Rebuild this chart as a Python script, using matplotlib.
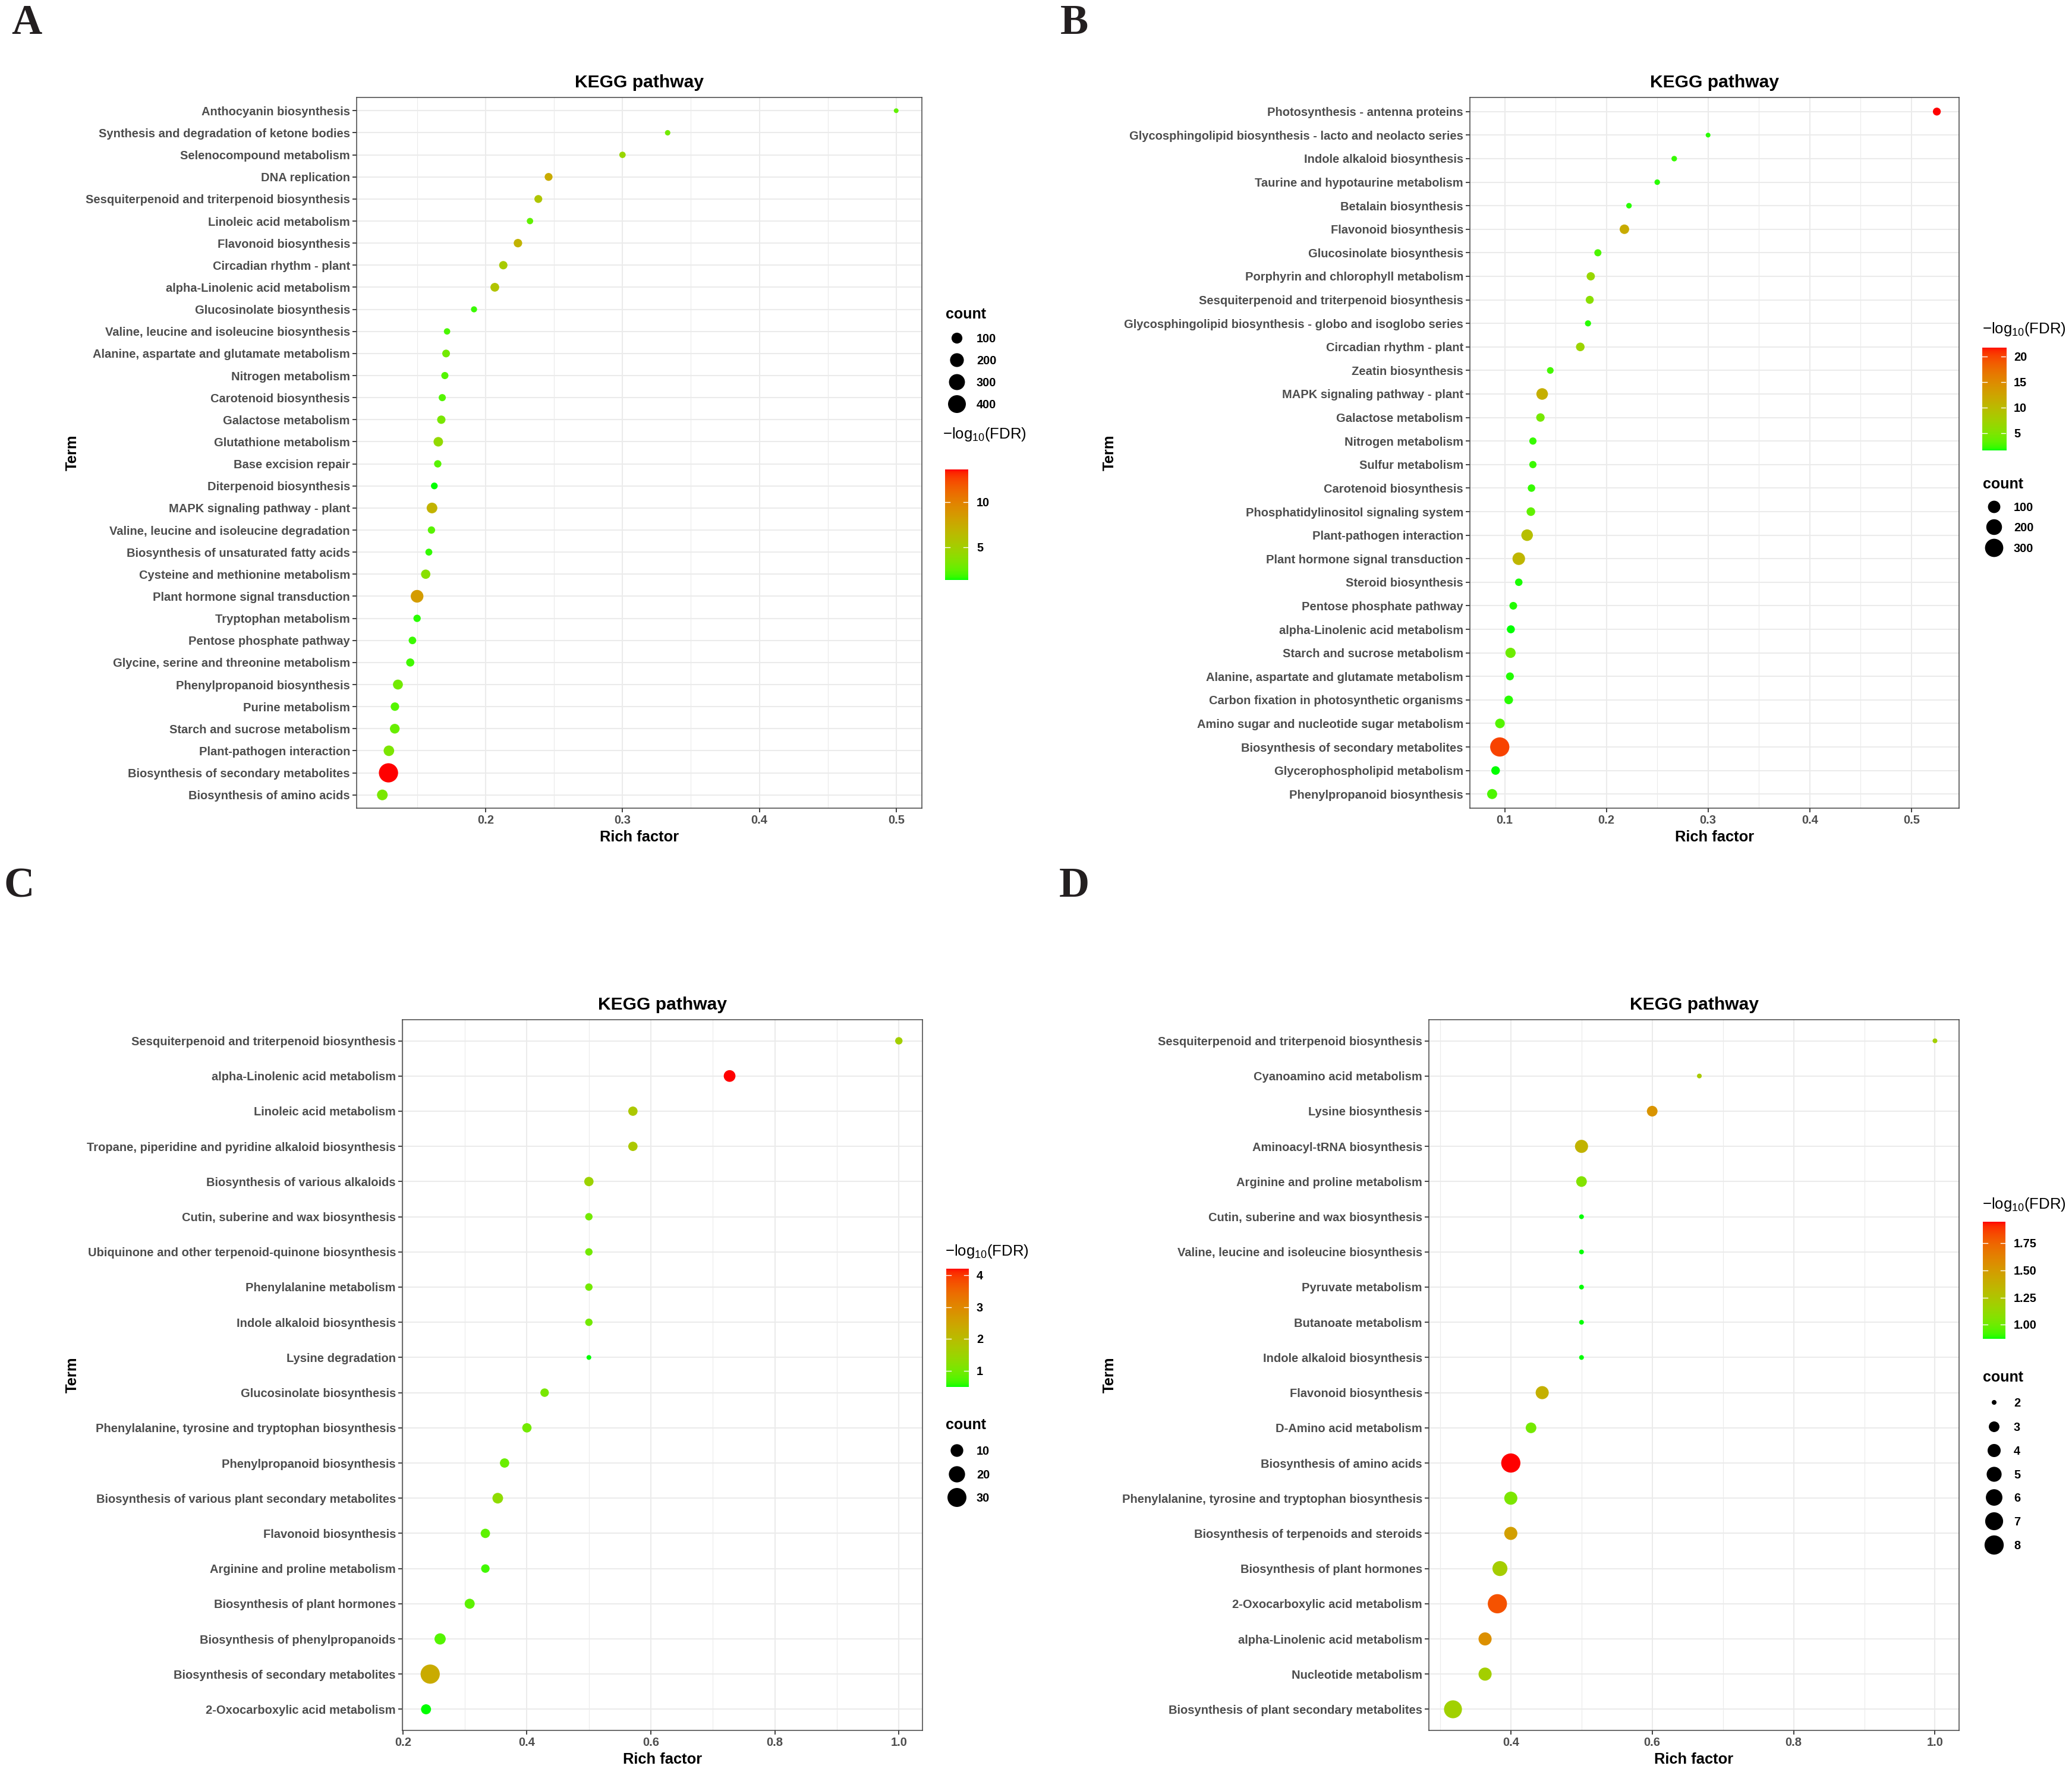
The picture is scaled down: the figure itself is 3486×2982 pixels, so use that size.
import numpy as np
import matplotlib
matplotlib.use("Agg")
import matplotlib.pyplot as plt

plt.rcParams['font.family'] = ['Liberation Sans', 'DejaVu Sans']
plt.rcParams['mathtext.default'] = 'regular'

# ---------------- DATA ----------------
terms_A = ["Anthocyanin biosynthesis", "Synthesis and degradation of ketone bodies",
           "Selenocompound metabolism", "DNA replication",
           "Sesquiterpenoid and triterpenoid biosynthesis", "Linoleic acid metabolism",
           "Flavonoid biosynthesis", "Circadian rhythm - plant", "alpha-Linolenic acid metabolism",
           "Glucosinolate biosynthesis", "Valine, leucine and isoleucine biosynthesis",
           "Alanine, aspartate and glutamate metabolism", "Nitrogen metabolism",
           "Carotenoid biosynthesis", "Galactose metabolism", "Glutathione metabolism",
           "Base excision repair", "Diterpenoid biosynthesis", "MAPK signaling pathway - plant",
           "Valine, leucine and isoleucine degradation", "Biosynthesis of unsaturated fatty acids",
           "Cysteine and methionine metabolism", "Plant hormone signal transduction",
           "Tryptophan metabolism", "Pentose phosphate pathway",
           "Glycine, serine and threonine metabolism", "Phenylpropanoid biosynthesis",
           "Purine metabolism", "Starch and sucrose metabolism", "Plant-pathogen interaction",
           "Biosynthesis of secondary metabolites", "Biosynthesis of amino acids"]
rich_A = [0.500, 0.333, 0.300, 0.246, 0.2385, 0.2324, 0.2236, 0.2129, 0.2067, 0.1915,
          0.1718, 0.1711, 0.1702, 0.1683, 0.1676, 0.1654, 0.1650, 0.1625, 0.1608, 0.1604,
          0.1585, 0.1562, 0.1499, 0.1499, 0.1465, 0.1449, 0.1359, 0.1337, 0.1336, 0.1293,
          0.1290, 0.1245]
count_A = [16, 17, 22, 38, 38, 22, 47, 45, 52, 20, 22, 36, 29, 29, 45, 67, 31, 25, 95, 31,
           27, 63, 157, 31, 34, 42, 76, 47, 71, 91, 485, 95]
fdr_A = [2.5, 3.0, 4.5, 7.5, 5.7, 2.5, 7.0, 5.3, 5.8, 1.8, 2.0, 3.0, 2.2, 2.2, 3.2, 4.2,
         2.3, 1.4, 7.0, 2.3, 1.7, 3.8, 8.5, 1.6, 1.8, 1.9, 3.0, 2.2, 2.7, 3.3, 13.6, 3.2]

terms_B = ["Photosynthesis - antenna proteins",
           "Glycosphingolipid biosynthesis - lacto and neolacto series",
           "Indole alkaloid biosynthesis", "Taurine and hypotaurine metabolism",
           "Betalain biosynthesis", "Flavonoid biosynthesis", "Glucosinolate biosynthesis",
           "Porphyrin and chlorophyll metabolism", "Sesquiterpenoid and triterpenoid biosynthesis",
           "Glycosphingolipid biosynthesis - globo and isoglobo series", "Circadian rhythm - plant",
           "Zeatin biosynthesis", "MAPK signaling pathway - plant", "Galactose metabolism",
           "Nitrogen metabolism", "Sulfur metabolism", "Carotenoid biosynthesis",
           "Phosphatidylinositol signaling system", "Plant-pathogen interaction",
           "Plant hormone signal transduction", "Steroid biosynthesis", "Pentose phosphate pathway",
           "alpha-Linolenic acid metabolism", "Starch and sucrose metabolism",
           "Alanine, aspartate and glutamate metabolism",
           "Carbon fixation in photosynthetic organisms",
           "Amino sugar and nucleotide sugar metabolism", "Biosynthesis of secondary metabolites",
           "Glycerophospholipid metabolism", "Phenylpropanoid biosynthesis"]
rich_B = [0.525, 0.300, 0.2667, 0.250, 0.2222, 0.2177, 0.1916, 0.1846, 0.1836, 0.1819,
          0.1743, 0.1448, 0.1368, 0.1351, 0.1277, 0.1277, 0.1263, 0.1257, 0.1220, 0.1138,
          0.1138, 0.1084, 0.1060, 0.1057, 0.1051, 0.1039, 0.0953, 0.0951, 0.0910, 0.0876]
count_B = [22, 6, 7, 7, 7, 42, 15, 26, 23, 9, 30, 12, 81, 28, 16, 16, 18, 30, 81, 104,
           18, 20, 23, 54, 22, 30, 44, 342, 30, 51]
fdr_B = [21.74, 2.0, 2.2, 2.0, 2.0, 11.7, 2.8, 6.7, 5.7, 2.0, 7.0, 2.5, 11.3, 4.5, 2.2,
         2.3, 2.2, 3.5, 9.5, 10.5, 1.8, 1.9, 1.7, 4.0, 1.9, 2.0, 3.0, 20.1, 1.67, 2.8]

terms_C = ["Sesquiterpenoid and triterpenoid biosynthesis", "alpha-Linolenic acid metabolism",
           "Linoleic acid metabolism", "Tropane, piperidine and pyridine alkaloid biosynthesis",
           "Biosynthesis of various alkaloids", "Cutin, suberine and wax biosynthesis",
           "Ubiquinone and other terpenoid-quinone biosynthesis", "Phenylalanine metabolism",
           "Indole alkaloid biosynthesis", "Lysine degradation", "Glucosinolate biosynthesis",
           "Phenylalanine, tyrosine and tryptophan biosynthesis", "Phenylpropanoid biosynthesis",
           "Biosynthesis of various plant secondary metabolites", "Flavonoid biosynthesis",
           "Arginine and proline metabolism", "Biosynthesis of plant hormones",
           "Biosynthesis of phenylpropanoids", "Biosynthesis of secondary metabolites",
           "2-Oxocarboxylic acid metabolism"]
rich_C = [1.0, 0.727, 0.571, 0.571, 0.5, 0.5, 0.5, 0.5, 0.5, 0.5, 0.4286, 0.4, 0.364,
          0.353, 0.333, 0.333, 0.3077, 0.2600, 0.2440, 0.2373]
count_C = [2, 8, 4, 4, 4, 2, 2, 2, 2, 1, 3, 4, 4, 6, 4, 3, 5, 7, 31, 5]
fdr_C = [1.6, 4.2, 1.75, 1.75, 1.5, 1.0, 1.0, 1.0, 1.0, 0.5, 1.05, 1.0, 0.9, 1.3, 0.8,
         0.65, 0.8, 0.75, 2.35, 0.5]

terms_D = ["Sesquiterpenoid and triterpenoid biosynthesis", "Cyanoamino acid metabolism",
           "Lysine biosynthesis", "Aminoacyl-tRNA biosynthesis", "Arginine and proline metabolism",
           "Cutin, suberine and wax biosynthesis", "Valine, leucine and isoleucine biosynthesis",
           "Pyruvate metabolism", "Butanoate metabolism", "Indole alkaloid biosynthesis",
           "Flavonoid biosynthesis", "D-Amino acid metabolism", "Biosynthesis of amino acids",
           "Phenylalanine, tyrosine and tryptophan biosynthesis",
           "Biosynthesis of terpenoids and steroids", "Biosynthesis of plant hormones",
           "2-Oxocarboxylic acid metabolism", "alpha-Linolenic acid metabolism",
           "Nucleotide metabolism", "Biosynthesis of plant secondary metabolites"]
rich_D = [1.0, 0.6667, 0.6, 0.5, 0.5, 0.5, 0.5, 0.5, 0.5, 0.5, 0.4444, 0.4286, 0.4, 0.4,
          0.4, 0.3846, 0.3810, 0.3636, 0.3636, 0.3182]
count_D = [2, 2, 3, 4, 3, 2, 2, 2, 2, 2, 4, 3, 8, 4, 4, 5, 8, 4, 4, 7]
fdr_D = [1.19, 1.22, 1.54, 1.36, 1.06, 0.87, 0.87, 0.87, 0.87, 0.87, 1.38, 1.02, 1.95,
         1.04, 1.48, 1.20, 1.82, 1.56, 1.19, 1.18]

xticks_A = [0.2, 0.3, 0.4, 0.5]
xticks_B = [0.1, 0.2, 0.3, 0.4, 0.5]
xticks_C = [0.2, 0.4, 0.6, 0.8, 1.0]
xticks_D = [0.4, 0.6, 0.8, 1.0]
cbticks_A = [5, 10]
cbticks_B = [5, 10, 15, 20]
cbticks_C = [1, 2, 3, 4]
cbticks_D = [1.00, 1.25, 1.50, 1.75]
sizebreaks_A = [100, 200, 300, 400]
sizebreaks_B = [100, 200, 300]
sizebreaks_C = [10, 20, 30]
sizebreaks_D = [2, 3, 4, 5, 6, 7, 8]

# ---------------- STYLE / LAYOUT ----------------
W, H = 3486, 2982
DPI = 100
PX2PT = 72.0 / DPI
DMIN, DMAX = 8.0, 32.3          # dot diameter range in px
GRID = '#EBEBEB'
TICKTXT = '#4D4D4D'


def lab_gradient(c1, c2, n=256):
    M = np.array([[0.4124564, 0.3575761, 0.1804375],
                  [0.2126729, 0.7151522, 0.0721750],
                  [0.0193339, 0.1191920, 0.9503041]])
    Minv = np.linalg.inv(M)
    wp = np.array([0.95047, 1.0, 1.08883])
    d = 6 / 29

    def f(t):
        return np.where(t > d ** 3, np.cbrt(t), t / (3 * d * d) + 4 / 29)

    def finv(t):
        return np.where(t > d, t ** 3, 3 * d * d * (t - 4 / 29))

    def to_lab(c):
        c = np.asarray(c, float)
        lin = np.where(c <= 0.04045, c / 12.92, ((c + 0.055) / 1.055) ** 2.4)
        xyz = M @ lin / wp
        fx, fy, fz = f(xyz)
        return np.array([116 * fy - 16, 500 * (fx - fy), 200 * (fy - fz)])

    def to_rgb(lab):
        L, a, b = lab
        fy = (L + 16) / 116
        fx = fy + a / 500
        fz = fy - b / 200
        xyz = np.array([finv(fx), finv(fy), finv(fz)]) * wp
        lin = Minv @ xyz
        lin = np.clip(lin, 0, 1)
        c = np.where(lin <= 0.0031308, 12.92 * lin, 1.055 * lin ** (1 / 2.4) - 0.055)
        return np.clip(c, 0, 1)

    l1, l2 = to_lab(c1), to_lab(c2)
    return np.array([to_rgb(l1 + (l2 - l1) * t) for t in np.linspace(0, 1, n)])


GRAD = lab_gradient((0, 1, 0), (1, 0, 0))


def colour(v, vmin, vmax):
    t = (np.asarray(v, float) - vmin) / (vmax - vmin)
    idx = np.clip(np.round(t * 255).astype(int), 0, 255)
    return GRAD[idx]


def diam(c, cmin, cmax):
    c = np.asarray(c, float)
    return DMIN + (DMAX - DMIN) * np.sqrt(np.clip((c - cmin) / (cmax - cmin), 0, 1))


def box(x0, y0, x1, y1):
    return [x0 / W, 1 - y1 / H, (x1 - x0) / W, (y1 - y0) / H]


fig = plt.figure(figsize=(W / DPI, H / DPI), dpi=DPI)
fig.patch.set_facecolor('white')
ov = fig.add_axes([0, 0, 1, 1], zorder=10)
ov.set_xlim(0, W)
ov.set_ylim(H, 0)
ov.axis('off')


def panel(letter, letter_xy, axbox, terms, rich, count, fdr, xticks, term_x,
          cb, cbticks, cbfmt, fdr_title_xy, count_title_xy, size_breaks, size_ys,
          size_x, lab_x):
    x0, y0, x1, y1 = axbox
    ax = fig.add_axes(box(x0, y0, x1, y1))
    n = len(terms)
    ypos = np.arange(n)[::-1]
    rich = np.asarray(rich)
    lo, hi = rich.min(), rich.max()
    pad = 0.05 * (hi - lo)
    xl = (lo - pad, hi + pad)
    step = xticks[1] - xticks[0]
    minors = [t + step / 2 for t in [xticks[0] - step] + list(xticks)]
    minors = [m for m in minors if xl[0] <= m <= xl[1]]
    ax.set_xticks(xticks)
    ax.set_xticklabels([f"{t:.1f}" for t in xticks])
    ax.set_xticks(minors, minor=True)
    ax.set_yticks(ypos)
    ax.set_yticklabels(terms)
    cmin, cmax = min(count), max(count)
    vmin, vmax = min(fdr), max(fdr)
    d = diam(count, cmin, cmax)
    ax.scatter(rich, ypos, s=(d * PX2PT) ** 2, c=colour(fdr, vmin, vmax),
               linewidths=0, zorder=3)
    ax.set_xlim(*xl)
    ax.set_ylim(-0.6, n - 1 + 0.6)
    ax.grid(which='major', color=GRID, lw=1.5, zorder=0)
    ax.grid(which='minor', axis='x', color=GRID, lw=0.8, zorder=0)
    ax.set_axisbelow(True)
    ax.tick_params(which='major', length=5, width=1.3, color='#333333', pad=3,
                   labelsize=14.5, labelcolor=TICKTXT)
    ax.tick_params(which='minor', length=0)
    for lab in ax.get_xticklabels() + ax.get_yticklabels():
        lab.set_fontweight('bold')
    for sp in ax.spines.values():
        sp.set_color('#444444')
        sp.set_linewidth(1.1)
    ax.set_title('KEGG pathway', fontsize=21.6, fontweight='bold', pad=12.2, color='black')

    # axis titles
    ov.text((x0 + x1) / 2, y1 + 56, 'Rich factor', ha='center', va='baseline',
            fontsize=18.4, fontweight='bold', color='black')
    ov.text(term_x, (y0 + y1) / 2, 'Term', ha='center', va='center', rotation=90,
            fontsize=18.4, fontweight='bold', color='black')
    ov.text(letter_xy[0], letter_xy[1], letter, ha='left', va='baseline',
            fontsize=51, fontweight='bold', family=['Liberation Serif', 'DejaVu Serif'],
            color='#231F20')

    # colourbar
    cx0, cy0, cx1, cy1 = cb
    cax = fig.add_axes(box(cx0, cy0, cx1, cy1))
    grad = GRAD[::-1][:, None, :]
    cax.imshow(grad, aspect='auto', extent=[0, 1, vmin, vmax], origin='upper')
    cax.set_xlim(0, 1)
    cax.set_ylim(vmin, vmax)
    cax.axis('off')
    for t in cbticks:
        cax.plot([0, 0.2], [t, t], color='white', lw=1.0)
        cax.plot([0.8, 1.0], [t, t], color='white', lw=1.0)
        yy = cy1 - (t - vmin) / (vmax - vmin) * (cy1 - cy0)
        ov.text(lab_x, yy + 7, cbfmt.format(t), ha='left', va='baseline',
                fontsize=14.3, fontweight='bold', color='black')
    ov.text(fdr_title_xy[0], fdr_title_xy[1], '\u2212log$_{10}$(FDR)', ha='left',
            va='baseline', fontsize=18.5, color='black')

    # size legend
    ov.text(count_title_xy[0], count_title_xy[1], 'count', ha='left', va='baseline',
            fontsize=18, fontweight='bold', color='black')
    dl = diam(size_breaks, cmin, cmax)
    ov.scatter([size_x] * len(size_breaks), size_ys, s=(dl * PX2PT) ** 2, c='black',
               linewidths=0)
    for b, yy in zip(size_breaks, size_ys):
        ov.text(lab_x, yy + 7, str(b), ha='left', va='baseline', fontsize=14.3,
                fontweight='bold', color='black')
    return ax


panel('A', (19, 57), (600, 164, 1551, 1360), terms_A, rich_A, count_A, fdr_A, xticks_A, 122,
      (1590, 790, 1629, 976), cbticks_A, '{:g}', (1586, 738), (1591, 536),
      sizebreaks_A, [569, 606, 643, 680], 1610, 1643)
panel('B', (1784, 57), (2473, 164, 3296, 1360), terms_B, rich_B, count_B, fdr_B, xticks_B, 1867,
      (3335, 585, 3375, 758), cbticks_B, '{:g}', (3335, 561), (3336, 822),
      sizebreaks_B, [853, 887, 922], 3355, 3388)
panel('C', (6, 1509), (677, 1716, 1552, 2912), terms_C, rich_C, count_C, fdr_C, xticks_C, 122,
      (1592, 2135, 1630, 2334), cbticks_C, '{:g}', (1590, 2113), (1591, 2405),
      sizebreaks_C, [2441, 2481, 2520], 1610, 1643)
panel('D', (1782, 1509), (2404, 1716, 3296, 2912), terms_D, rich_D, count_D, fdr_D, xticks_D, 1867,
      (3336, 2056, 3374, 2253), cbticks_D, '{:.2f}', (3335, 2034), (3336, 2325),
      sizebreaks_D, [2360, 2401, 2441, 2481, 2520, 2560, 2600], 3355, 3388)

fig.savefig('out.png', dpi=DPI, facecolor='white')
